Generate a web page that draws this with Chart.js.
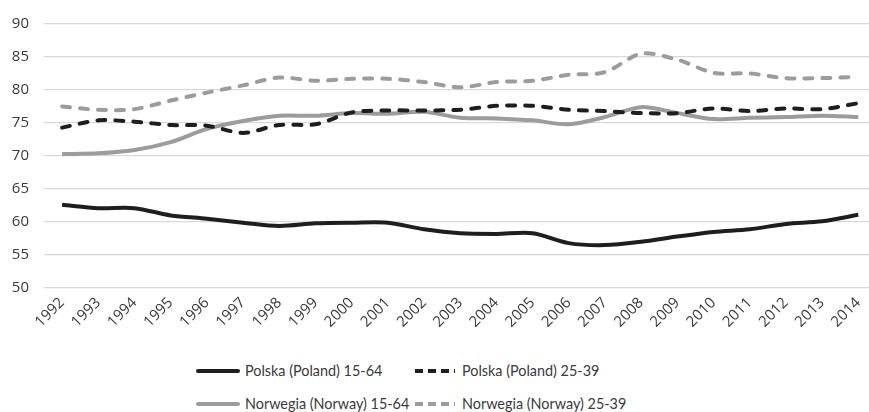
<!DOCTYPE html>
<html><head><meta charset="utf-8">
<script src="https://cdn.jsdelivr.net/npm/chart.js@4/dist/chart.umd.min.js"></script>
<style>
html,body{margin:0;padding:0;background:#fff;overflow:hidden;width:869px;height:412px}
#wrap{position:absolute;left:0;top:0;width:877px;height:352px}
#legend{position:absolute;left:196px;top:354px;font-family:Lato,"Open Sans",sans-serif;font-size:14.4px;color:#3a3a3a;display:grid;grid-template-columns:217px 260px;grid-auto-rows:33px}
.item{display:flex;align-items:center;white-space:nowrap}
.item svg{margin-right:5px;flex:none}
</style>
</head><body>
<div id="wrap"><canvas id="c" width="877" height="352"></canvas></div>
<div id="legend"></div>
<script>
const years = ['1992','1993','1994','1995','1996','1997','1998','1999','2000','2001','2002','2003','2004','2005','2006','2007','2008','2009','2010','2011','2012','2013','2014'];
const polska1564 = [62.6,62.1,62.1,61.0,60.5,59.9,59.4,59.8,59.9,59.9,58.9,58.3,58.2,58.3,56.8,56.5,57.0,57.8,58.5,58.9,59.7,60.1,61.1];
const polska2539 = [74.3,75.4,75.2,74.7,74.6,73.5,74.7,74.8,76.6,76.9,76.9,77.0,77.6,77.6,77.0,76.8,76.5,76.5,77.2,76.8,77.2,77.1,78.0];
const norwegia1564 = [70.3,70.4,70.9,72.1,74.1,75.3,76.1,76.1,76.5,76.4,76.7,75.8,75.7,75.4,74.8,75.9,77.4,76.5,75.6,75.8,75.9,76.1,75.9];
const norwegia2539 = [77.5,77.0,77.1,78.4,79.6,80.7,81.9,81.4,81.7,81.7,81.2,80.4,81.2,81.4,82.3,82.7,85.5,84.6,82.6,82.5,81.8,81.8,82.0];
const seriesLabels = ['Polska (Poland) 15-64','Polska (Poland) 25-39','Norwegia (Norway) 15-64','Norwegia (Norway) 25-39'];
const yTicks = [50,55,60,65,70,75,80,85,90];

const BLACK = '#1f1d1e', GRAY = '#9c9c9c', DASH = [8,10];
function ds(label, data, color, dash){
  return {label, data, borderColor: color, backgroundColor: color, borderWidth: 4,
    borderDash: dash, borderCapStyle: dash.length ? 'round' : 'butt', borderJoinStyle:'round',
    pointRadius: 0, pointHoverRadius: 0, tension: 0.3, fill: false};
}
const datasets = [
  ds(seriesLabels[0], polska1564, BLACK, []),
  ds(seriesLabels[1], polska2539, BLACK, DASH),
  ds(seriesLabels[2], norwegia1564, GRAY, []),
  ds(seriesLabels[3], norwegia2539, GRAY, DASH)
];
const font = {family: '"Open Sans", Lato, sans-serif'};
const chart = new Chart(document.getElementById('c'), {
  type: 'line',
  data: {labels: years, datasets},
  options: {
    responsive: false, animation: false,
    layout: {padding: {top: 19, left: 0, right: 0, bottom: 0}},
    plugins: {legend: {display: false}, tooltip: {enabled: false}},
    scales: {
      y: {
        min: 50, max: 90,
        afterBuildTicks: s => { s.ticks = yTicks.map(v => ({value: v})); },
        afterFit: s => { s.width = 44; },
        grid: {color: '#d9d9d9', lineWidth: 1.3, drawTicks: false},
        border: {display: false},
        ticks: {color: '#3a3a3a', font: {...font, size: 15}, padding: 15}
      },
      x: {
        offset: true,
        afterFit: s => { s.height = 352 - 288; },
        grid: {display: false, drawTicks: false},
        border: {display: false},
        ticks: {color: '#3a3a3a', font: {...font, size: 15}, minRotation: 45, maxRotation: 45, autoSkip: false, padding: 6}
      }
    }
  }
});

// HTML legend built from the datasets
const lg = document.getElementById('legend');
chart.data.datasets.forEach(d => {
  const it = document.createElement('div'); it.className = 'item';
  const dash = d.borderDash.length ? 'stroke-dasharray="8 5"' : '';
  it.innerHTML = `<svg width="44" height="8"><line x1="2" y1="4" x2="42" y2="4" stroke="${d.borderColor}" stroke-width="4" ${dash} stroke-linecap="${d.borderDash.length ? 'butt' : 'round'}"/></svg><span></span>`;
  it.querySelector('span').textContent = d.label;
  lg.appendChild(it);
});
</script>
</body></html>
